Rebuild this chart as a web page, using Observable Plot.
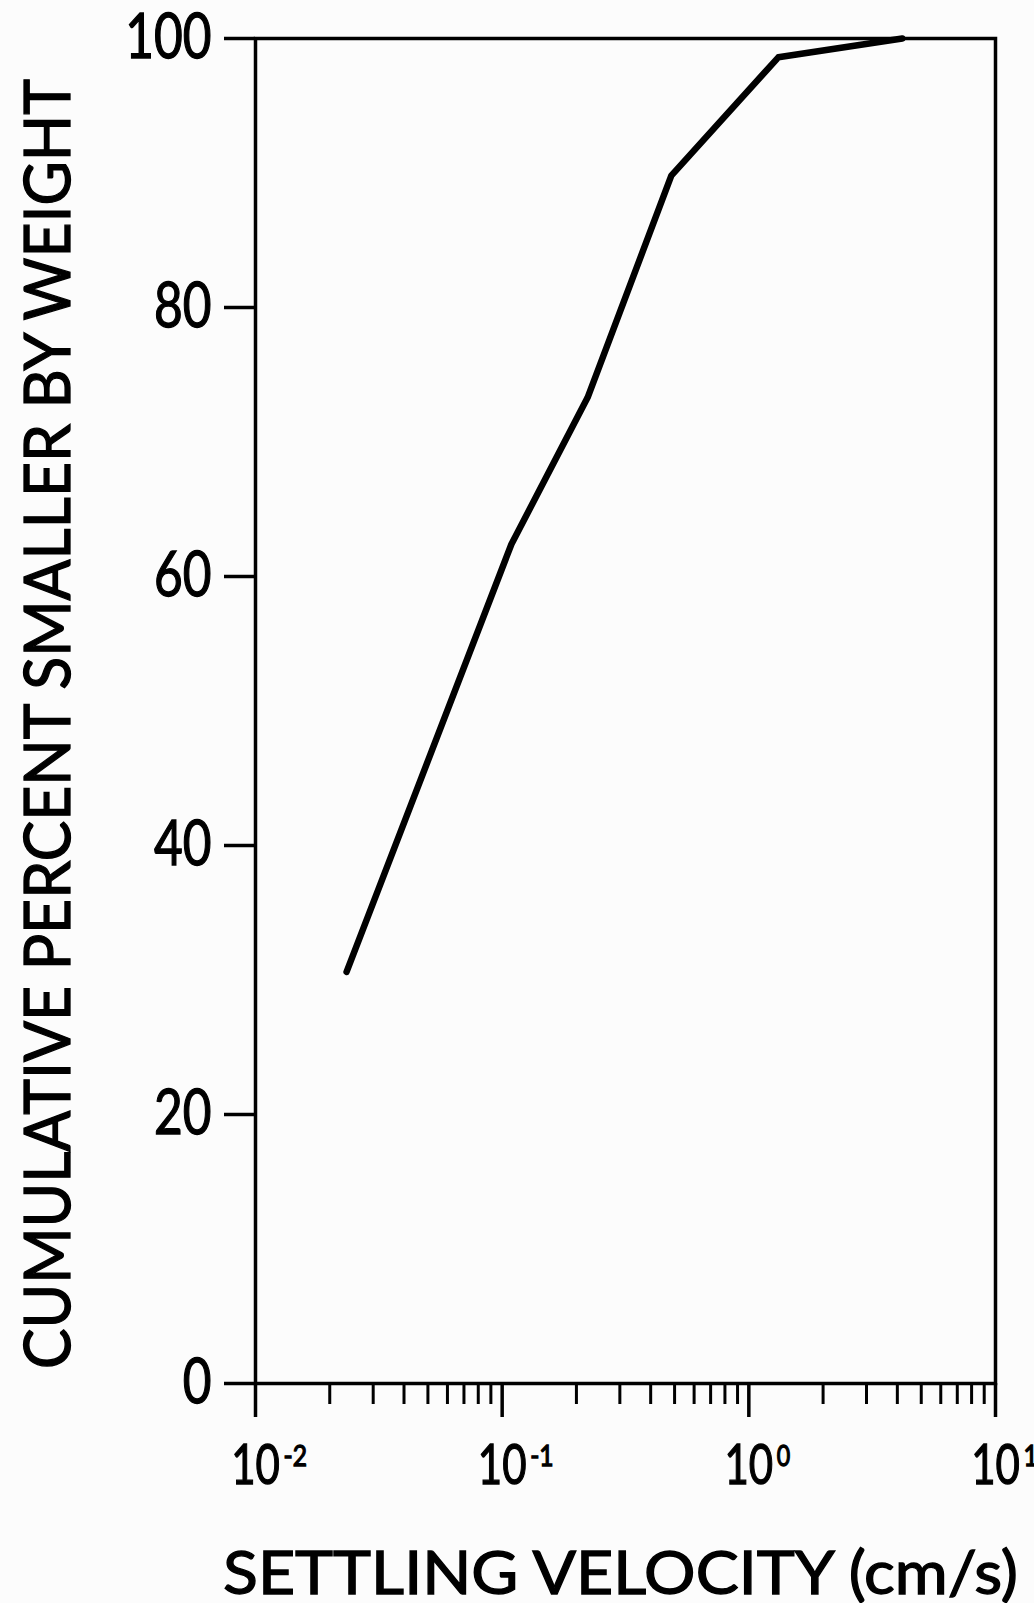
<!DOCTYPE html>
<html>
<head>
<meta charset="utf-8">
<script src="https://cdn.jsdelivr.net/npm/d3@7"></script>
<script src="https://cdn.jsdelivr.net/npm/@observablehq/plot@0.6"></script>
<style>
  html, body { margin: 0; padding: 0; background: #fcfcfc; }
  #chart svg { display: block; }
</style>
</head>
<body>
<div id="chart"></div>
<script>
// ---- data ----
const velocity = [0.0234, 0.109, 0.222, 0.485, 1.317, 4.19];   // cm/s
const percent  = [30.6, 62.4, 73.3, 89.8, 98.6, 100];           // cumulative %
const yTicks = [0, 20, 40, 60, 80, 100];
const majorTicks = [0.01, 0.1, 1, 10];
const majorBase = ["10", "10", "10", "10"];
const majorExp = ["-2", "-1", "0", "1"];
const minorMultipliers = [2, 3, 4, 5, 6, 7, 8, 9];
const minorDecades = [0.01, 0.1, 1];
const xTitle = "SETTLING VELOCITY (cm/s)";
const yTitle = "CUMULATIVE PERCENT SMALLER BY WEIGHT";

const minorTicks = minorDecades.flatMap(d => minorMultipliers.map(m => +(d * m).toPrecision(3)));
const data = velocity.map((v, i) => ({velocity: v, percent: percent[i]}));

const chart = Plot.plot({
  width: 1034,
  height: 1603,
  marginLeft: 255,
  marginRight: 39,
  marginTop: 38,
  marginBottom: 220,
  style: {fontFamily: "Lato, 'Open Sans', sans-serif", background: "#fcfcfc", color: "black"},
  x: {type: "log", domain: [0.01, 10]},
  y: {domain: [0, 100]},
  marks: [
    Plot.frame({stroke: "black", strokeWidth: 3.5}),
    Plot.axisY(yTicks, {tickSize: 31, tickPadding: 13, fontSize: 62, strokeWidth: 3.5, label: null, tickFormat: d => String(d)}),
    Plot.axisX(minorTicks, {tickSize: 21, strokeWidth: 3, label: null, tickFormat: () => ""}),
    Plot.axisX(majorTicks, {tickSize: 34, tickPadding: 27, strokeWidth: 3.5, label: null, fontSize: 56, tickFormat: d => majorBase[majorTicks.indexOf(d)]}),
    Plot.text(majorTicks, {x: d => d, text: (d, i) => majorExp[i], frameAnchor: "bottom", dx: 28, dy: 82, textAnchor: "start", lineAnchor: "bottom", fontSize: 29}),
    Plot.text([xTitle], {text: d => d, frameAnchor: "bottom", dx: -5, dy: 210, lineAnchor: "bottom", fontSize: 60}),
    Plot.text([yTitle], {text: d => d, frameAnchor: "left", textAnchor: "middle", rotate: -90, dx: -186, dy: 13, lineAnchor: "bottom", fontSize: 64}),
    Plot.line(data, {x: "velocity", y: "percent", stroke: "black", strokeWidth: 6.5, strokeLinejoin: "round", strokeLinecap: "round"})
  ]
});

document.getElementById("chart").append(chart);

// condense texts to the narrow widths of the reference lettering and thicken strokes
d3.select(chart).selectAll("text").each(function() {
  const t = this.textContent;
  let target = null;
  if (t === xTitle) target = 795;
  else if (t === yTitle) target = 1290;
  else if (yTicks.map(String).includes(t)) target = this.getComputedTextLength() * 0.8;
  else if (t === "10") target = this.getComputedTextLength() * 0.75;
  else if (majorExp.includes(t)) target = this.getComputedTextLength() * 0.85;
  if (target) { this.setAttribute("textLength", target); this.setAttribute("lengthAdjust", "spacingAndGlyphs"); }
  this.style.stroke = "black";
  this.style.strokeWidth = "1.3px";
});
</script>
</body>
</html>
